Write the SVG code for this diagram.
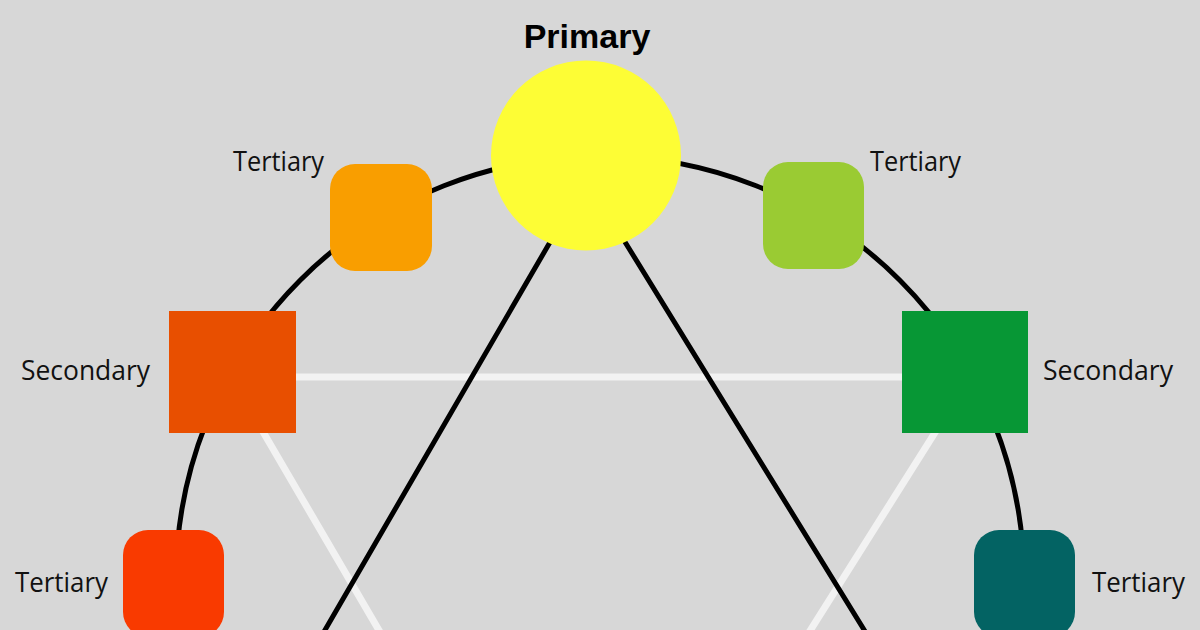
<svg xmlns="http://www.w3.org/2000/svg" width="1200" height="630" viewBox="0 0 1200 630">
<style>
.lbl{font-family:"Open Sans","Noto Sans","Liberation Sans",sans-serif;font-size:28px;fill:#111}
.title{font-family:"Liberation Sans",Arial,sans-serif;font-size:34px;font-weight:bold;fill:#000}
.blk{stroke:#000;stroke-width:5;fill:none}
.wht{stroke:#f2f2f2;stroke-width:7;fill:none}
</style>
<rect width="1200" height="630" fill="#d7d7d7"/>
<g id="connectors">
<circle id="ring" cx="600" cy="580" r="424" class="blk"/>
<path id="white-triangle" class="wht" d="M231 377 L970 377 M231 377 L408 680 M970 377 L779 680"/>
<path id="black-triangle" class="blk" d="M600 156 L296 680 M572 156 L895 680"/>
</g>
<g id="primary">
<circle cx="586" cy="155.5" r="95" fill="#fdfd35"/>
<text class="title" x="587" y="48" text-anchor="middle">Primary</text>
</g>
<g id="tertiary-orange">
<rect x="330" y="164" width="102" height="107" rx="25" fill="#f99e00"/>
<text class="lbl" x="233" y="171" textLength="91" lengthAdjust="spacingAndGlyphs">Tertiary</text>
</g>
<g id="tertiary-yellowgreen">
<rect x="763" y="162" width="101" height="107" rx="25" fill="#9acb33"/>
<text class="lbl" x="870" y="171" textLength="91" lengthAdjust="spacingAndGlyphs">Tertiary</text>
</g>
<g id="secondary-orange">
<rect x="169" y="311" width="127" height="122" fill="#e84f00"/>
<text class="lbl" x="21" y="380" textLength="129" lengthAdjust="spacingAndGlyphs">Secondary</text>
</g>
<g id="secondary-green">
<rect x="902" y="311" width="126" height="122" fill="#079735"/>
<text class="lbl" x="1043" y="380" textLength="130" lengthAdjust="spacingAndGlyphs">Secondary</text>
</g>
<g id="tertiary-red">
<rect x="123" y="530" width="101" height="107" rx="25" fill="#f93a00"/>
<text class="lbl" x="15" y="592" textLength="93" lengthAdjust="spacingAndGlyphs">Tertiary</text>
</g>
<g id="tertiary-teal">
<rect x="974" y="530" width="101" height="107" rx="25" fill="#036363"/>
<text class="lbl" x="1092" y="592" textLength="93" lengthAdjust="spacingAndGlyphs">Tertiary</text>
</g>
</svg>
